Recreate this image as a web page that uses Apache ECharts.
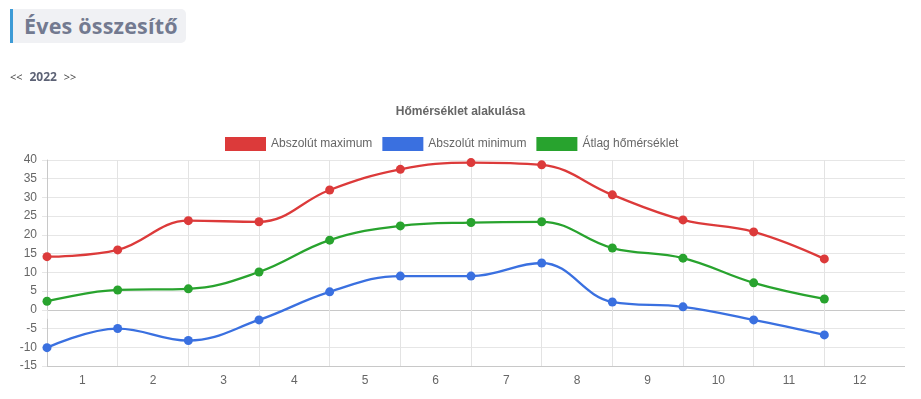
<!DOCTYPE html>
<html>
<head>
<meta charset="utf-8">
<script src="https://cdn.jsdelivr.net/npm/echarts@6/dist/echarts.min.js"></script>
<style>
  html, body { margin: 0; padding: 0; background: #fff; }
  .page { position: relative; width: 921px; height: 399px; overflow: hidden; }
  .heading {
    position: absolute; left: 10px; top: 9px; width: 176px; height: 34px;
    background: #f0f1f4; border-left: 3px solid #3d9bd6; border-radius: 0 5px 5px 0;
    font-family: "Open Sans", sans-serif; font-weight: 700; font-size: 21.5px;
    color: #737a90; line-height: 34px; padding-left: 11px; box-sizing: border-box;
    letter-spacing: 0.2px;
  }
  .year {
    position: absolute; left: 10px; top: 68px;
    font-family: "Open Sans", sans-serif; font-size: 11px; color: #444;
  }
  .year b { color: #5c6275; margin: 0 4px; font-size: 12px; }
  #main { position: absolute; left: 0; top: 0; width: 921px; height: 399px; }
</style>
</head>
<body>
<div class="page">
  <div id="main"></div>
  <div class="heading">Éves összesítő</div>
  <div class="year">&lt;&lt; <b>2022</b> &gt;&gt;</div>
</div>
<script>
// honapok
var months = ['1', '2', '3', '4', '5', '6', '7', '8', '9', '10', '11', '12'];
// homerseklet adatok
var absMax = [14.2, 16.0, 23.8, 23.5, 32.0, 37.5, 39.3, 38.7, 30.7, 24.0, 20.8, 13.6];
var absMin = [-10.1, -5.0, -8.2, -2.7, 4.8, 9.0, 9.0, 12.5, 2.1, 0.8, -2.7, -6.7];
var avgTemp = [2.3, 5.3, 5.6, 10.1, 18.6, 22.4, 23.3, 23.5, 16.5, 13.8, 7.2, 2.9];
var yTicks = [-15, -10, -5, 0, 5, 10, 15, 20, 25, 30, 35, 40];

var colors = ['#dc3a3a', '#3a70e0', '#28a32e'];

function toPoints(arr) {
  return arr.map(function (v, i) { return [i, v]; });
}

var chart = echarts.init(document.getElementById('main'));

var tickPos = months.map(function (m, i) { return i; });
var labelPos = months.map(function (m, i) { return i + 0.5; });

// vizszintes racsvonalak: a 0 es a -15 sotetebb
var hColors = yTicks.map(function (t) {
  return (t === 0 || t === -15) ? '#c8c8c8' : '#e6e6e6';
});

var series = [
  { name: 'Abszolút maximum', data: absMax },
  { name: 'Abszolút minimum', data: absMin },
  { name: 'Átlag hőmérséklet', data: avgTemp }
].map(function (s, i) {
  return {
    name: s.name,
    type: 'line',
    smooth: 0.4,
    data: toPoints(s.data),
    symbol: 'circle',
    symbolSize: 9,
    itemStyle: { color: colors[i] },
    lineStyle: { width: 2.3, color: colors[i] },
    z: 10 - i
  };
});

chart.setOption({
  animation: false,
  textStyle: { fontFamily: 'Arial, "Liberation Sans", sans-serif' },
  title: {
    text: 'Hőmérséklet alakulása',
    left: 'center',
    top: 101,
    textStyle: { fontSize: 12, fontWeight: 'bold', color: '#666' }
  },
  legend: {
    top: 132,
    left: 220,
    icon: 'rect',
    itemWidth: 41,
    itemHeight: 14,
    itemGap: 10,
    textStyle: { fontSize: 12, color: '#666' },
    data: series.map(function (s) { return s.name; })
  },
  grid: { left: 47, right: 16, top: 160, bottom: 33 },
  xAxis: {
    type: 'value',
    min: 0,
    max: 12 * 858 / 848,
    axisLine: { show: false },
    axisTick: { show: true, customValues: tickPos, length: 9, lineStyle: { color: '#e3e3e3' } },
    splitLine: { show: true, lineStyle: { color: '#e3e3e3' } },
    axisLabel: {
      customValues: labelPos,
      margin: 9,
      fontSize: 12,
      color: '#666',
      formatter: function (v) { return months[Math.floor(v)]; }
    }
  },
  yAxis: {
    type: 'value',
    min: -15,
    max: 40,
    interval: 5,
    axisLine: { show: true, lineStyle: { color: '#c8c8c8' } },
    axisTick: { show: true, length: 5, lineStyle: { color: '#e6e6e6' } },
    splitLine: { show: true, lineStyle: { color: hColors } },
    axisLabel: { fontSize: 12, color: '#666', margin: 10 }
  },
  series: series
});
</script>
</body>
</html>
